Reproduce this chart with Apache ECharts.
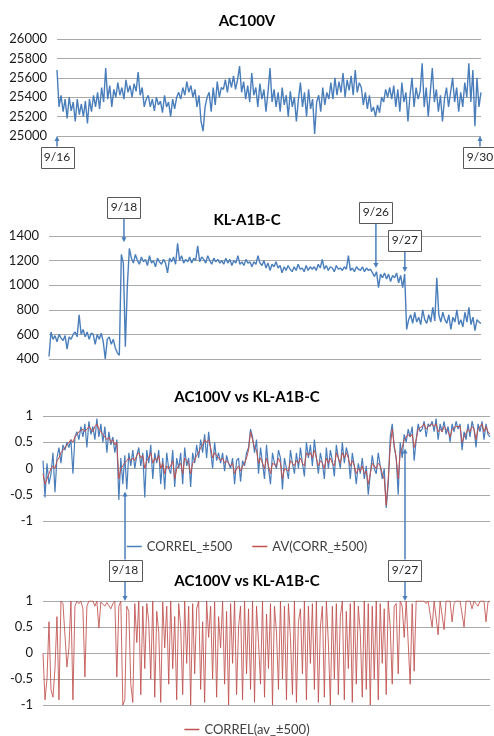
<!DOCTYPE html>
<html><head><meta charset="utf-8">
<script src="https://cdn.jsdelivr.net/npm/echarts@6/dist/echarts.min.js"></script>
<style>html,body{margin:0;padding:0;background:#fff}#c{width:494px;height:736px}</style>
</head><body><div id="c"></div>
<script>
// ---- data ----
const ac100v = [
25680,25300,25420,25250,25380,25180,25400,25260,25350,25150,25380,25220,25330,25200,25360,
25130,25380,25250,25420,25300,25450,25280,25500,25350,25700,25380,25520,25300,25480,25400,
25550,25420,25500,25380,25580,25450,25520,25400,25540,25460,25660,25420,25500,25300,25380,
25420,25300,25380,25260,25400,25320,25360,25240,25420,25300,25350,25200,25380,25280,25400,
25450,25380,25500,25420,25560,25450,25520,25400,25480,25300,25420,25150,25050,25300,25400,
25450,25250,25500,25320,25560,25400,25500,25480,25580,25450,25600,25500,25620,25480,25580,
25720,25450,25560,25380,25520,25350,25650,25420,25500,25300,25540,25380,25480,25250,25450,
25700,25350,25480,25300,25450,25250,25500,25320,25420,25200,25460,25300,25400,25150,25380,
25550,25300,25450,25200,25480,25280,25380,25020,25350,25420,25250,25500,25320,25450,25380,
25550,25380,25600,25420,25560,25450,25650,25400,25580,25470,25620,25420,25680,25450,25550,
25500,25320,25450,25280,25420,25250,25300,25200,25320,25240,25400,25350,25480,25400,25500,
25380,25520,25300,25480,25250,25550,25350,25450,25150,25420,25600,25300,25500,25380,25460,
25750,25300,25500,25200,25450,25700,25350,25480,25250,25420,25150,25380,25500,25300,25450,
25600,25350,25500,25250,25450,25300,25550,25400,25750,25350,25680,25100,25600,25300,25450
];
const klA1bC = [
420,620,560,590,540,600,570,550,590,480,580,560,600,
620,580,760,600,640,580,620,560,610,600,
520,600,560,610,540,400,560,
580,520,560,490,450,430,
1250,1180,500,1000,1300,
1220,1180,1250,1200,1170,1230,1190,1210,1160,1240,1180,1200,1150,1220,1190,
1170,1210,1180,1100,1220,1190,1230,1170,1340,1200,1240,1180,1210,1190,1230,
1180,1220,1200,1320,1190,1230,1210,1180,1240,1200,1170,1220,1190,1210,1180,
1200,1170,1220,1180,1210,1160,1200,1180,1240,1170,1190,1160,1210,1180,1190,
1150,1190,1170,1240,1180,1160,1200,1140,1180,1120,1170,1150,1190,1140,1160,
1100,1150,1120,1160,1130,1110,1150,1120,1170,1130,1140,1110,1160,1120,1150,
1130,1150,1120,1170,1140,1210,1130,1160,1120,1150,1140,1110,1160,1130,1140,
1120,1150,1130,1240,1120,1140,1110,1150,1130,1120,1150,1110,1140,1120,1130,
1100,1070,1110,980,1090,1060,1100,1050,1090,1030,1080,1060,1100,1020,1080,980,1090,
640,720,760,690,780,700,740,680,800,720,690,760,700,820,710,
1060,760,700,780,720,690,760,640,740,700,800,680,720,660,780,
700,820,680,740,630,720,700,690
];
const correl = [
0.15,-0.55,0.1,-0.3,-0.1,0.3,-0.45,0.2,0.4,0.1,0.45,0.35,0.5,0.4,0.55,
-0.1,0.6,0.7,0.55,0.8,0.6,0.85,0.4,0.9,0.65,0.8,0.55,0.95,0.6,0.85,
0.5,0.8,0.3,0.7,0.45,0.6,0.3,0.55,-0.6,0.2,-0.3,0.25,-0.4,0.3,0.05,
0.35,0.0,0.25,0.4,0.05,0.3,-0.55,0.35,0.1,0.45,-0.2,0.3,0.1,0.35,-0.3,
0.2,-0.4,0.3,0.0,-0.1,0.35,-0.35,0.2,0.0,0.3,-0.3,0.4,0.05,0.2,-0.35,
0.3,0.1,0.45,0.2,0.55,0.3,0.65,0.2,0.7,0.35,0.0,0.5,0.15,0.3,0.1,
0.3,-0.05,0.25,0.1,0.0,0.2,-0.3,0.15,0.2,-0.25,0.15,0.05,0.3,0.4,0.75,
0.6,0.3,0.55,-0.1,0.4,0.1,-0.2,0.45,0.0,-0.3,0.3,0.1,0.0,0.35,0.2,
-0.4,0.2,0.0,-0.2,0.35,0.1,-0.1,0.3,0.0,0.4,0.1,-0.15,0.5,0.2,0.45,
0.05,0.55,0.2,-0.1,0.3,0.1,-0.2,0.4,0.0,0.35,0.15,-0.15,0.45,0.2,0.0,
0.5,0.1,0.4,0.25,-0.2,0.3,0.05,-0.3,0.1,-0.1,0.2,-0.2,0.05,-0.5,-0.1,
0.25,0.0,-0.1,0.3,0.05,-0.2,0.0,-0.75,-0.3,0.6,0.85,0.4,0.2,-0.5,0.5,
0.2,0.65,0.5,0.75,0.6,0.8,0.15,0.55,0.85,0.7,0.75,0.9,0.6,0.85,0.8,
0.9,0.7,0.95,0.55,0.85,0.7,0.9,0.65,0.8,0.5,0.85,0.7,0.9,0.75,0.85,
0.35,0.7,0.55,0.85,0.6,0.9,0.75,0.4,0.85,0.7,0.9,0.55,0.85,0.65,0.6
];
const avCorr = [
-0.1,-0.3,-0.2,-0.1,0.0,0.05,0.0,0.15,0.2,0.3,0.35,0.4,0.45,0.5,0.55,
0.5,0.6,0.65,0.7,0.7,0.75,0.7,0.75,0.8,0.75,0.7,0.8,0.85,0.75,0.7,
0.65,0.6,0.55,0.6,0.5,0.55,0.45,0.5,-0.2,0.0,0.05,0.1,0.15,0.2,0.15,
0.2,0.15,0.25,0.3,0.2,0.25,0.0,0.15,0.2,0.3,0.1,0.2,0.15,0.25,0.0,
0.1,-0.1,0.05,0.0,0.05,0.15,-0.2,0.0,0.05,0.1,-0.1,0.2,0.15,0.1,-0.1,
0.1,0.15,0.25,0.3,0.4,0.45,0.55,0.5,0.55,0.4,0.2,0.3,0.25,0.2,0.15,
0.2,0.1,0.15,0.1,0.05,0.1,-0.1,0.0,0.05,-0.05,0.05,0.1,0.2,0.35,0.7,
0.55,0.4,0.35,0.1,0.2,0.1,0.0,0.2,0.05,-0.1,0.1,0.1,0.05,0.2,0.1,
-0.2,0.0,0.0,-0.05,0.15,0.1,0.05,0.15,0.1,0.2,0.1,0.05,0.3,0.25,0.3,
0.2,0.35,0.2,0.05,0.15,0.1,0.0,0.2,0.1,0.2,0.1,0.05,0.3,0.2,0.1,
0.3,0.2,0.3,0.2,0.05,0.15,0.05,-0.1,0.0,-0.05,0.05,-0.1,-0.05,-0.3,-0.1,
0.1,0.05,0.0,0.1,0.05,-0.1,-0.2,-0.7,-0.2,0.4,0.75,0.45,0.2,-0.2,0.3,
0.4,0.55,0.55,0.65,0.6,0.65,0.4,0.55,0.75,0.75,0.8,0.85,0.75,0.8,0.8,
0.85,0.8,0.85,0.7,0.75,0.7,0.8,0.75,0.7,0.6,0.75,0.75,0.8,0.8,0.8,
0.5,0.6,0.6,0.75,0.7,0.8,0.75,0.55,0.75,0.75,0.85,0.7,0.8,0.7,0.65
];
const correlAv = [
0.0,-0.9,-0.5,0.6,-0.7,-0.85,-0.3,0.7,-0.9,1.0,0.95,0.98,-0.27,0.1,1.0,
-0.9,0.9,1.0,0.95,1.0,0.85,-0.46,0.9,1.0,0.97,1.0,0.9,1.0,0.48,0.98,
1.0,0.9,0.97,1.0,0.85,0.95,1.0,-0.46,0.9,1.0,-1.0,-0.9,0.9,0.8,-0.6,
-0.95,0.95,0.2,1.0,-0.8,0.9,-0.3,0.95,0.6,-0.5,1.0,-0.85,0.8,0.4,-0.95,
0.98,0.1,0.9,-0.6,1.0,-0.3,0.7,-0.9,0.95,0.5,-0.8,1.0,-0.2,0.9,-1.0,
0.95,-0.4,0.85,1.0,-0.7,0.6,-0.95,1.0,0.3,0.9,-0.5,0.98,-0.85,0.7,0.1,
1.0,-0.6,0.8,-1.0,0.95,-0.2,1.0,-0.8,0.5,0.9,-0.9,1.0,-0.4,0.85,-0.7,
1.0,-0.95,0.9,0.2,-0.6,1.0,-0.85,0.75,-0.3,0.95,-1.0,0.9,0.4,-0.7,1.0,
-0.5,0.9,-0.9,0.95,0.3,-0.8,1.0,-0.95,0.6,0.85,-0.4,1.0,-0.9,0.9,-0.2,
0.95,-0.7,1.0,-0.95,0.5,0.9,-0.85,1.0,0.2,-1.0,0.9,-0.5,0.95,-0.8,0.7,
1.0,-0.9,0.8,-0.3,0.95,-0.95,1.0,-0.6,0.9,0.4,-0.85,1.0,-0.7,0.95,-1.0,
0.9,-0.5,1.0,-0.9,0.95,-0.2,0.85,-0.8,1.0,0.5,-0.6,0.9,0.95,-0.4,1.0,
0.9,0.3,1.0,0.98,-0.6,0.95,-0.35,1.0,0.98,1.0,0.97,1.0,0.95,1.0,0.98,
0.5,1.0,0.98,0.35,1.0,0.97,0.45,1.0,0.98,1.0,0.6,0.95,1.0,0.98,1.0,
0.98,0.5,1.0,0.97,1.0,0.85,1.0,0.98,0.9,1.0,0.97,1.0,0.6,0.98,1.0
];
const titles = ['AC100V', 'KL-A1B-C', 'AC100V vs KL-A1B-C', 'AC100V vs KL-A1B-C'];
const seriesNames = ['AC100V', 'KL-A1B-C', 'CORREL_±500', 'AV(CORR_±500)', 'CORREL(av_±500)'];
const yRanges = [[25000, 26000, 200], [400, 1400, 200], [-1, 1, 0.5], [-1, 1, 0.5]];
// date call-outs: label, panel, position along the series (sample index), value the arrow points at
const callouts = [
  {label: '9/16', panel: 0, at: 0, tip: 25000},
  {label: '9/30', panel: 0, at: 208.5, tip: 25000},
  {label: '9/18', panel: 1, at: 37.3, tip: 1350},
  {label: '9/26', panel: 1, at: 162.7, tip: 1140},
  {label: '9/27', panel: 1, at: 177.1, tip: 1107},
  {label: '9/18', panel: 2, at: 41.1, tip: -0.44, tip2: 1},
  {label: '9/27', panel: 2, at: 181.4, tip: 0.38, tip2: 1}
];

// ---- layout / style ----
const FONT = 'Lato, "Open Sans", sans-serif';
const BLUE = '#4a7ebb', RED = '#c0504d', GRID = '#a9a9a9';
const grids = [
  {left: 57, right: 13, top: 39, height: 97},
  {left: 49, right: 13, top: 236, height: 123},
  {left: 43, right: 4, top: 416, height: 105},
  {left: 43, right: 4, top: 601, height: 104}
];
const titleTops = [9, 208, 385, 569];
const boxCenters = [157, 157, 207.5, 212, 240.5, 570, 570];
const lens = [ac100v.length, klA1bC.length, correl.length, correlAv.length];
const pairs = a => a.map((v, i) => [i, v]);

const chart = echarts.init(document.getElementById('c'), null, {renderer: 'canvas'});
const legendText = {fontFamily: FONT, fontSize: 13, color: '#404040'};
const option = {
  animation: false,
  backgroundColor: '#fff',
  textStyle: {fontFamily: FONT},
  title: titles.map((t, k) => ({
    text: t, left: 'center', top: titleTops[k],
    textStyle: {fontFamily: FONT, fontSize: 15, fontWeight: 'bold', color: '#000'}
  })),
  legend: [
    {data: [seriesNames[2], seriesNames[3]], top: 535, left: 'center', icon: 'rect', itemWidth: 15, itemHeight: 1.5, itemGap: 20, textStyle: legendText},
    {data: [seriesNames[4]], top: 718, left: 'center', icon: 'rect', itemWidth: 15, itemHeight: 1.5, textStyle: legendText}
  ],
  grid: grids.map(g => Object.assign({containLabel: false}, g)),
  xAxis: grids.map((g, k) => ({
    type: 'value', gridIndex: k, min: 0, max: lens[k] - 1,
    axisLine: {show: false}, axisTick: {show: false}, axisLabel: {show: false}, splitLine: {show: false}
  })),
  yAxis: yRanges.map((r, k) => ({
    type: 'value', gridIndex: k, min: r[0], max: r[1], interval: r[2],
    axisLine: {show: false}, axisTick: {show: false},
    axisLabel: {fontFamily: FONT, fontSize: 13, color: '#1a1a1a', margin: 10, formatter: v => String(v)},
    splitLine: {lineStyle: {color: GRID, width: 1}}
  })),
  series: [
    {name: seriesNames[0], type: 'line', xAxisIndex: 0, yAxisIndex: 0, data: pairs(ac100v), symbol: 'none', lineStyle: {color: BLUE, width: 1.4}, itemStyle: {color: BLUE}},
    {name: seriesNames[1], type: 'line', xAxisIndex: 1, yAxisIndex: 1, data: pairs(klA1bC), symbol: 'none', lineStyle: {color: BLUE, width: 1.4}, itemStyle: {color: BLUE}},
    {name: seriesNames[2], type: 'line', xAxisIndex: 2, yAxisIndex: 2, data: pairs(correl), symbol: 'none', lineStyle: {color: BLUE, width: 1.2}, itemStyle: {color: BLUE}},
    {name: seriesNames[3], type: 'line', xAxisIndex: 2, yAxisIndex: 2, data: pairs(avCorr), symbol: 'none', lineStyle: {color: RED, width: 1}, itemStyle: {color: RED}},
    {name: seriesNames[4], type: 'line', xAxisIndex: 3, yAxisIndex: 3, data: pairs(correlAv), symbol: 'none', lineStyle: {color: RED, width: 1, opacity: 0.85}, itemStyle: {color: RED}}
  ]
};
chart.setOption(option);

// ---- call-out boxes and arrows, positioned through the axes ----
const BW = 33, BH = 21;
const gfx = [];
function arrow(x, y0, y1) {
  const dir = y1 > y0 ? 1 : -1;
  gfx.push({type: 'line', shape: {x1: x, y1: y0, x2: x, y2: y1 - dir * 4}, style: {stroke: BLUE, lineWidth: 1.5}, z: 100});
  gfx.push({type: 'polygon', shape: {points: [[x - 2.5, y1 - dir * 5], [x + 2.5, y1 - dir * 5], [x, y1]]}, style: {fill: BLUE}, z: 100});
}
callouts.forEach((c, n) => {
  const px = chart.convertToPixel({xAxisIndex: c.panel}, c.at);
  const ty = chart.convertToPixel({yAxisIndex: c.panel}, c.tip);
  const cy = boxCenters[n];
  const top = cy - BH / 2, bot = cy + BH / 2;
  arrow(px, ty > cy ? bot : top, ty);
  if (c.tip2 !== undefined) {
    const ty2 = chart.convertToPixel({yAxisIndex: c.panel + 1}, c.tip2);
    arrow(px, bot, ty2);
  }
  gfx.push({type: 'rect', shape: {x: Math.round(px - BW / 2) + 0.5, y: Math.round(top) + 0.5, width: BW, height: BH},
    style: {fill: '#fff', stroke: '#595959', lineWidth: 1}, z: 101});
  gfx.push({type: 'text', x: px, y: cy, style: {text: c.label, fontFamily: FONT, fontSize: 12, fill: '#262626', align: 'center', verticalAlign: 'middle'}, z: 102});
});
chart.setOption({graphic: gfx});
</script>
</body></html>
